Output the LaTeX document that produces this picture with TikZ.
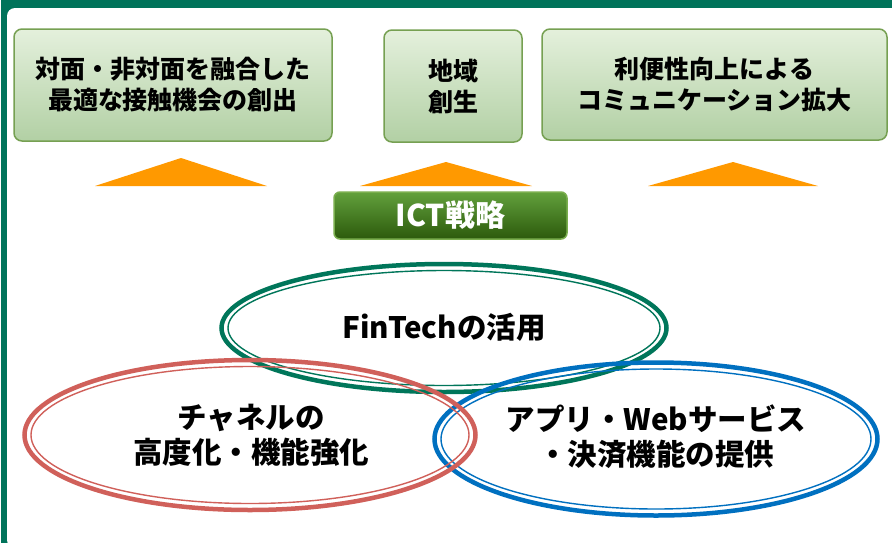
\documentclass[tikz,border=0pt]{standalone}
\usepackage{fontspec}
\setmainfont{Noto Sans CJK JP}
\definecolor{frameC}{HTML}{00735A}
\definecolor{boxTop}{HTML}{E4F0DC}
\definecolor{boxBot}{HTML}{B2D0A4}
\definecolor{boxLine}{HTML}{76A052}
\definecolor{ictTop}{HTML}{62A03C}
\definecolor{ictBot}{HTML}{2C5A0C}
\definecolor{ictLine}{HTML}{7AAE4E}
\definecolor{triC}{HTML}{FF9900}
\definecolor{gC}{HTML}{00765A}
\definecolor{rC}{HTML}{D0605A}
\definecolor{bC}{HTML}{0070C0}
\tikzset{
  topbox/.style={draw=boxLine, line width=1.5pt, rounded corners=8pt,
    top color=boxTop, bottom color=boxBot, align=center,
    font=\bfseries\fontsize{25}{31}\selectfont, inner sep=0pt},
  ictbox/.style={draw=ictLine, line width=1.5pt, rounded corners=6pt,
    top color=ictTop, bottom color=ictBot, text=white,
    font=\bfseries\fontsize{30}{32}\selectfont, inner sep=0pt},
  tri/.style={fill=triC},
  elltext/.style={align=center, font=\bfseries\fontsize{29.5}{35}\selectfont},
  thickring/.style={line width=4.5pt},
  thinring/.style={line width=1.4pt}
}
\begin{document}
\begin{tikzpicture}[x=1pt,y=-1pt]
\useasboundingbox (0,0) rectangle (892,542);
% frame
\fill[frameC, rounded corners=8pt] (1,-20) rectangle (910,560);
\fill[white, rounded corners=8pt] (7,8) rectangle (905,548);
% top boxes
\node[topbox, minimum width=318pt, minimum height=112pt] (b1) at (173,85)
  {対面・非対面を融合した\\最適な接触機会の創出};
\node[topbox, minimum width=138pt, minimum height=112pt] (b2) at (453,86)
  {地域\\創生};
\node[topbox, minimum width=345pt, minimum height=111pt] (b3) at (714.5,84.5)
  {利便性向上による\\コミュニケーション拡大};
% triangles
\fill[tri] (95,186) -- (181,158) -- (267,186) -- cycle;
\fill[tri] (360,186) -- (446,162) -- (532,186) -- cycle;
\fill[tri] (648,186) -- (733,162) -- (818,186) -- cycle;
% ICT box
\node[ictbox, minimum width=233pt, minimum height=47pt] (ict) at (450.5,215.5) {ICT戦略};
% ellipses
\draw[gC, thickring] (444,328) ellipse [x radius=222.5, y radius=64];
\draw[gC, thinring] (444,328) ellipse [x radius=216, y radius=57.5];
\draw[bC, thickring] (656,439) ellipse [x radius=221.5, y radius=76.5];
\draw[bC, thinring] (656,439) ellipse [x radius=215, y radius=70];
\draw[rC, thickring] (250,435) ellipse [x radius=225.5, y radius=75];
\draw[rC, thinring] (250,435) ellipse [x radius=219, y radius=68.5];
% texts
\node[elltext] (fin) at (444,327) {FinTechの活用};
\node[elltext] (ch) at (251,435) {チャネルの\\高度化・機能強化};
\node[elltext] (app) at (656,437) {アプリ・Webサービス\\・決済機能の提供};
\end{tikzpicture}
\end{document}
